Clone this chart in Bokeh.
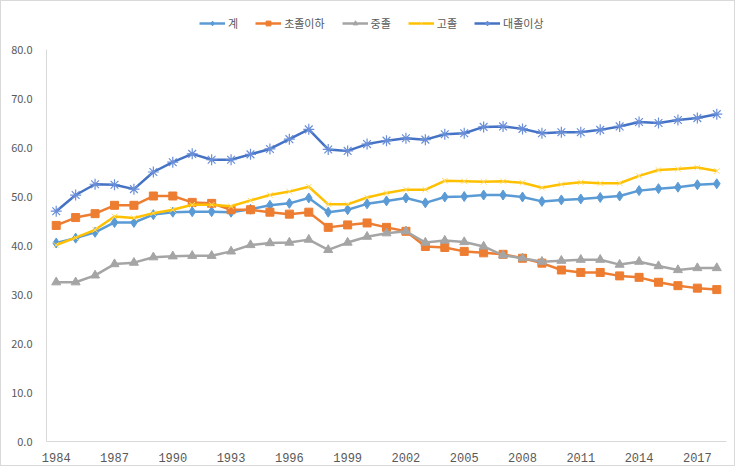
from bokeh.plotting import figure
from bokeh.models import Range1d, FixedTicker, NumeralTickFormatter, Legend, LegendItem
from bokeh.embed import file_html
from bokeh.resources import INLINE

# Survey years and shares (%) by education level
years = list(range(1984, 2019))

total = [40.5, 41.5, 42.7, 44.7, 44.7, 46.3, 46.8, 46.9, 46.9, 46.8,
         47.4, 48.2, 48.6, 49.7, 46.8, 47.3, 48.5, 49.1, 49.7, 48.7,
         49.9, 50.0, 50.3, 50.3, 49.9, 49.0, 49.3, 49.5, 49.8, 50.1,
         51.2, 51.6, 51.9, 52.4, 52.6]

elementary = [44.1, 45.7, 46.5, 48.2, 48.2, 50.1, 50.1, 48.8, 48.6, 47.3,
              47.3, 46.8, 46.4, 46.8, 43.7, 44.2, 44.6, 43.7, 42.9, 39.8,
              39.6, 38.8, 38.5, 38.2, 37.4, 36.4, 35.0, 34.5, 34.5, 33.8,
              33.5, 32.5, 31.8, 31.3, 31.0]

middle = [32.5, 32.5, 33.9, 36.2, 36.5, 37.6, 37.8, 37.9, 37.9, 38.8,
          40.1, 40.5, 40.6, 41.2, 39.1, 40.6, 41.8, 42.5, 42.9, 40.6,
          41.0, 40.7, 39.8, 38.0, 37.4, 36.7, 36.9, 37.1, 37.1, 36.1,
          36.7, 35.8, 35.0, 35.4, 35.4]

high = [40.1, 41.6, 43.2, 45.9, 45.6, 46.6, 47.3, 48.3, 48.3, 48.0,
        49.2, 50.3, 51.0, 52.0, 48.4, 48.4, 49.8, 50.7, 51.4, 51.4,
        53.2, 53.1, 53.0, 53.1, 52.8, 51.8, 52.5, 52.9, 52.7, 52.7,
        54.2, 55.4, 55.6, 55.9, 55.2]

college = [47.0, 50.3, 52.5, 52.4, 51.5, 55.0, 57.0, 58.7, 57.5, 57.5,
           58.6, 59.7, 61.7, 63.7, 59.6, 59.3, 60.7, 61.4, 61.9, 61.6,
           62.7, 62.9, 64.2, 64.3, 63.8, 62.9, 63.1, 63.1, 63.6, 64.3,
           65.2, 65.0, 65.6, 66.0, 66.8]

series_names = ["계", "초졸이하", "중졸", "고졸", "대졸이상"]
x_ticks = list(range(1984, 2019, 3))
y_ticks = list(range(0, 81, 10))

FONT = "Noto Sans CJK KR"
TEXT = "#595959"

# The frame runs to the top edge so the legend can sit above the 80.0 line;
# the value axis itself is bounded to 0..80.
FRAME_H = 440
Y_TOP = 80 * FRAME_H / 392

p = figure(width=735, height=466, output_backend="svg", toolbar_location=None,
           x_range=Range1d(1983.5, 2018.5), y_range=Range1d(0, Y_TOP),
           min_border_left=45, min_border_right=10, min_border_top=0,
           min_border_bottom=26)
p.outline_line_color = None
p.xgrid.visible = False
p.ygrid.visible = False
p.background_fill_color = "white"
p.border_fill_color = "white"

for ax in (p.xaxis[0], p.yaxis[0]):
    ax.axis_line_color = "#d9d9d9"
    ax.axis_line_width = 1
    ax.major_tick_line_color = None
    ax.minor_tick_line_color = None
    ax.major_label_text_color = TEXT

p.yaxis.bounds = (0, 80)
p.yaxis.ticker = FixedTicker(ticks=y_ticks)
p.yaxis.formatter = NumeralTickFormatter(format="0.0")
p.yaxis.major_label_text_font = FONT
p.yaxis.major_label_text_font_size = "11px"
p.yaxis.major_label_standoff = 8

p.xaxis.ticker = FixedTicker(ticks=x_ticks)
p.xaxis.major_label_text_font = "Liberation Mono"
p.xaxis.major_label_text_font_size = "12px"
p.xaxis.major_label_standoff = 5

items = []
lw = 2.5

r1 = p.line(years, total, line_color="#5B9BD5", line_width=lw)
m1 = p.scatter(years, total, marker="diamond", size=10,
               fill_color="#5B9BD5", line_color="#5B9BD5")
items.append(LegendItem(label=series_names[0], renderers=[r1, m1]))

r2 = p.line(years, elementary, line_color="#ED7D31", line_width=lw)
m2 = p.scatter(years, elementary, marker="square", size=8,
               fill_color="#ED7D31", line_color="#ED7D31")
items.append(LegendItem(label=series_names[1], renderers=[r2, m2]))

r3 = p.line(years, middle, line_color="#A5A5A5", line_width=lw)
m3 = p.scatter(years, middle, marker="triangle", size=9,
               fill_color="#A5A5A5", line_color="#A5A5A5")
items.append(LegendItem(label=series_names[2], renderers=[r3, m3]))

r4 = p.line(years, high, line_color="#FFC000", line_width=lw)
m4 = p.scatter(years, high, marker="x", size=8,
               line_color="#FFDB70", line_width=1)
items.append(LegendItem(label=series_names[3], renderers=[r4, m4]))

r5 = p.line(years, college, line_color="#4472C4", line_width=lw)
m5 = p.scatter(years, college, marker="asterisk", size=11,
               line_color="#6A8FD8", line_width=1.2)
items.append(LegendItem(label=series_names[4], renderers=[r5, m5]))

legend = Legend(items=items, orientation="horizontal", location=(153, 410),
                label_text_font=FONT, label_text_font_size="11px",
                label_text_color=TEXT, glyph_width=26, glyph_height=12,
                label_width=0, label_height=12,
                spacing=17, padding=4, margin=0, label_standoff=3,
                border_line_color=None, background_fill_alpha=0)
p.add_layout(legend)

# thin chart-area border
p.styles = {"border": "1px solid #d9d9d9", "box-sizing": "border-box"}

open("out.html", "w").write(file_html(p, INLINE))
